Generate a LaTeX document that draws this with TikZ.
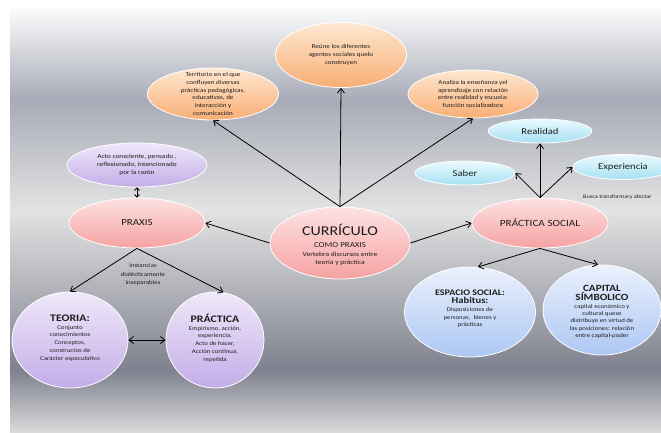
\documentclass[tikz,border=0pt]{standalone}
\usepackage{fontspec}
\setmainfont[FakeStretch=1.18]{Carlito}
\usetikzlibrary{shapes.geometric,arrows.meta}
\definecolor{bgA}{HTML}{A8ABB7}
\definecolor{bgB}{HTML}{E3E3E3}
\definecolor{bgC}{HTML}{7E818E}
\definecolor{bgD}{HTML}{DADADA}
\definecolor{txtc}{HTML}{1E1E1E}
\definecolor{orT}{HTML}{FEE8D2}
\definecolor{orB}{HTML}{F8AE74}
\definecolor{pkT}{HTML}{FDE2E2}
\definecolor{pkB}{HTML}{F6A2A2}
\definecolor{lvT}{HTML}{EFE8FA}
\definecolor{lvB}{HTML}{C4ADE8}
\definecolor{cyT}{HTML}{EAFAFE}
\definecolor{cyB}{HTML}{A6E0F3}
\definecolor{blT}{HTML}{EBF1FD}
\definecolor{blB}{HTML}{ACC7F3}
\tikzset{
  ell/.style={ellipse, draw=white, line width=0.8pt, inner sep=0pt},
  orell/.style={ell, top color=orT, bottom color=orB},
  pkell/.style={ell, top color=pkT, bottom color=pkB},
  lvell/.style={ell, top color=lvT, bottom color=lvB},
  cyell/.style={ell, top color=cyT, bottom color=cyB},
  blell/.style={ell, top color=blT, bottom color=blB},
  txt/.style={text=txtc, align=center, inner sep=0pt, font=\fontsize{6}{7.8}\selectfont},
  arr/.style={-{Straight Barb[length=4.5pt,width=7pt]}, line width=0.8pt, black},
  darr/.style={{Straight Barb[length=4.5pt,width=7pt]}-{Straight Barb[length=4.5pt,width=7pt]}, line width=0.8pt, black},
  sarr/.style={{Straight Barb[length=2.5pt,width=5pt]}-{Straight Barb[length=2.5pt,width=5pt]}, line width=0.8pt, black},
}
\begin{document}
\begin{tikzpicture}[x=1pt,y=-1pt]
\useasboundingbox (0,0) rectangle (661,432);
\clip (0,0) rectangle (661,432);
% background
\fill[white] (0,0) rectangle (661,432);
\fill[top color=white, bottom color=bgA] (10,4) rectangle (661,100.5);
\fill[top color=bgA, bottom color=bgB] (10,100) rectangle (661,210.5);
\fill[top color=bgB, bottom color=bgC] (10,210) rectangle (661,370.5);
\fill[top color=bgC, bottom color=bgD] (10,370) rectangle (661,432);

% ellipses
\node[orell, minimum width=131, minimum height=65] (reune) at (341,55) {};
\node[txt] (reunet) at (reune) {Reúne los diferentes\\agentes sociales quelo\\construyen};

\node[orell, minimum width=131, minimum height=52] (terr) at (213,94) {};
\node[txt] (terrt) at (terr) {Territorio en el que\\confluyen diversas\\prácticas pedagógicas,\\educativas, de\\interacción y\\comunicación};

\node[orell, minimum width=130, minimum height=48] (anal) at (473,94) {};
\node[txt] (analt) at (anal) {Analiza la enseñanza yel\\aprendizaje con relación\\entre realidad y escuela:\\función socializadora};

\node[cyell, minimum width=104, minimum height=24] (real) at (540,131) {};
\node[txt, font=\fontsize{9}{10}\selectfont] (realt) at (real) {Realidad};

\node[cyell, minimum width=100, minimum height=24] (saber) at (465,173) {};
\node[txt, font=\fontsize{9}{10}\selectfont] (sabert) at (saber) {Saber};

\node[cyell, minimum width=100, minimum height=25] (exper) at (623,167) {};
\node[txt, font=\fontsize{9}{10}\selectfont] (expert) at (exper) {Experiencia};

\node[txt, anchor=west, font=\fontsize{5.3}{6}\selectfont] (busca) at (583,197) {Busca transformary afectar};

\node[pkell, minimum width=136, minimum height=50] (psoc) at (540,223) {};
\node[txt, font=\fontsize{9.5}{11}\selectfont] (psoct) at (psoc) {PRÁCTICA SOCIAL};

\node[pkell, minimum width=140, minimum height=72] (curr) at (340,243) {};
\node[txt, font=\fontsize{6.4}{8}\selectfont] (currt) at (340,245) {{\fontsize{13.5}{14}\selectfont CURRÍCULO}\\[3.5pt]{\fontsize{7.6}{9}\selectfont COMO PRAXIS}\\[1pt]Vertebra discursos entre\\teoría y práctica};

\node[pkell, minimum width=136, minimum height=50] (praxis) at (137,223) {};
\node[txt, font=\fontsize{9.3}{11}\selectfont] (praxist) at (praxis) {PRAXIS};

\node[lvell, minimum width=140, minimum height=44] (acto) at (137,165) {};
\node[txt, font=\fontsize{6.2}{8}\selectfont] (actot) at (acto) {Acto consciente, pensado ,\\reflexionado, intencionado\\por la razón};

\node[txt, font=\fontsize{5.8}{8.4}\selectfont] (inst) at (143,274.5) {Instancias\\dialécticamente\\inseparables};

\node[lvell, minimum width=116, minimum height=96] (teoria) at (70,340) {};
\node[txt, font=\fontsize{5.8}{7.8}\selectfont] (teoriat) at (70,338) {{\bfseries\fontsize{10}{11}\selectfont TEORIA:}\\Conjunto\\conocimientos\\Conceptos,\\constructos de\\Carácter especulativo};

\node[lvell, minimum width=98, minimum height=96] (practica) at (215,340) {};
\node[txt, font=\fontsize{5.8}{7.8}\selectfont] (practicat) at (215,338) {{\bfseries\fontsize{10}{11}\selectfont PRÁCTICA}\\Empirismo, acción,\\experiencia,\\Acto de hacer,\\Acción continua,\\repetida};

\node[blell, minimum width=131, minimum height=90] (espacio) at (470,312) {};
\node[txt, font=\fontsize{5.8}{7.8}\selectfont] (espaciot) at (470,309) {{\bfseries\fontsize{8.5}{10}\selectfont ESPACIO SOCIAL:}\\{\bfseries\fontsize{9}{11}\selectfont Habitus:}\\Disposiciones de\\personas,\ \ bienes y\\prácticas};

\node[blell, minimum width=118, minimum height=90] (capital) at (602,310) {};
\node[txt, font=\fontsize{5.8}{7.4}\selectfont] (capitalt) at (602,312) {{\bfseries\fontsize{9.5}{11}\selectfont CAPITAL}\\{\bfseries\fontsize{9.5}{11}\selectfont SÍMBOLICO}\\capital económico y\\cultural quese\\distribuye en virtud de\\las posiciones: relación\\entre capital-poder};

% connectors
\draw[arr] (curr.north) -- (terr.south);
\draw[arr] (curr.north) -- (reune.south);
\draw[arr] (curr.north) -- (anal.south);
\draw[arr] (curr.west) -- (praxis.east);
\draw[arr] (curr.east) -- (psoc.west);
\draw[arr] (psoc.north) -- (saber.east);
\draw[arr] (psoc.north) -- (real.south);
\draw[arr] (psoc.north) -- (exper.west);
\draw[arr] (psoc.south) -- (espacio.80);
\draw[arr] (psoc.south) -- (capital.95);
\draw[arr] (praxis.south) -- (teoria.north);
\draw[arr] (praxis.south) -- (practica.80);
\draw[darr] (teoria.east) -- (practica.west);
\draw[sarr] (acto.south) -- (praxis.north);
\end{tikzpicture}
\end{document}
